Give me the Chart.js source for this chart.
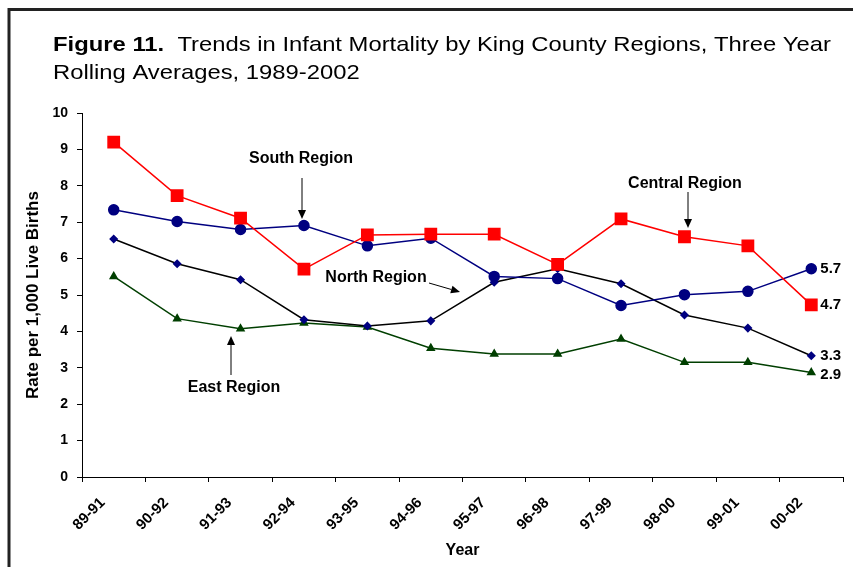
<!DOCTYPE html>
<html>
<head>
<meta charset="utf-8">
<script src="https://cdn.jsdelivr.net/npm/chart.js@4/dist/chart.umd.min.js"></script>
<style>
  html, body { margin: 0; padding: 0; background: #fff; }
  #wrap { width: 853px; height: 567px; position: relative; }
</style>
</head>
<body>
<div id="wrap"><canvas id="chart" width="853" height="567"></canvas></div>
<script>
const years = ['89-91', '90-92', '91-93', '92-94', '93-95', '94-96', '95-97', '96-98', '97-99', '98-00', '99-01', '00-02'];
const central = [9.2, 7.73, 7.11, 5.71, 6.65, 6.67, 6.67, 5.84, 7.09, 6.6, 6.35, 4.73];
const south = [7.34, 7.02, 6.8, 6.91, 6.35, 6.56, 5.51, 5.45, 4.71, 5.01, 5.1, 5.72];
const north = [6.54, 5.86, 5.42, 4.32, 4.15, 4.29, 5.35, 5.72, 5.31, 4.45, 4.09, 3.33];
const east = [5.51, 4.35, 4.07, 4.23, 4.12, 3.54, 3.38, 3.38, 3.79, 3.15, 3.15, 2.87];

const FONT = 'Arial, "Liberation Sans", sans-serif';
Chart.defaults.color = '#000';
Chart.defaults.font.family = FONT;

// frame + title
const framePlugin = {
  id: 'frame',
  beforeDraw(chart) {
    const c = chart.ctx;
    c.save();
    c.fillStyle = '#fff';
    c.fillRect(0, 0, chart.width, chart.height);
    c.strokeStyle = '#222';
    c.lineWidth = 3;
    c.beginPath();
    c.moveTo(9, 567);
    c.lineTo(9, 9.5);
    c.lineTo(853, 9.5);
    c.stroke();

    // title text is a bit wider than Arial, stretch it
    c.fillStyle = '#000';
    c.textBaseline = 'alphabetic';
    c.textAlign = 'left';
    c.translate(53, 0);
    c.scale(1.134, 1);
    c.font = 'bold 21px ' + FONT;
    const head = 'Figure 11.';
    c.fillText(head, 0, 51);
    const w = c.measureText(head).width;
    c.font = '21px ' + FONT;
    c.fillText('  Trends in Infant Mortality by King County Regions, Three Year', w, 51);
    c.fillText('Rolling Averages, 1989-2002', 0, 79);
    c.restore();
  }
};

function arrow(c, x1, y1, x2, y2) {
  const a = Math.atan2(y2 - y1, x2 - x1);
  const L = 9, W = 4;
  c.beginPath();
  c.moveTo(x1, y1);
  c.lineTo(x2 - Math.cos(a) * L, y2 - Math.sin(a) * L);
  c.stroke();
  c.beginPath();
  c.moveTo(x2, y2);
  c.lineTo(x2 - Math.cos(a) * L - Math.sin(a) * W, y2 - Math.sin(a) * L + Math.cos(a) * W);
  c.lineTo(x2 - Math.cos(a) * L + Math.sin(a) * W, y2 - Math.sin(a) * L - Math.cos(a) * W);
  c.closePath();
  c.fill();
}

const notesPlugin = {
  id: 'notes',
  afterDatasetsDraw(chart) {
    const c = chart.ctx;
    c.save();
    c.fillStyle = '#000';
    c.strokeStyle = '#000';
    c.lineWidth = 1;
    c.font = 'bold 16px ' + FONT;
    c.textAlign = 'center';
    c.textBaseline = 'alphabetic';
    c.fillText('South Region', 301, 163);
    c.fillText('Central Region', 685, 188);
    c.fillText('North Region', 376, 282);
    c.fillText('East Region', 234, 392);
    arrow(c, 302, 178, 302, 219);
    arrow(c, 688, 192, 688, 228);
    arrow(c, 429, 283, 460, 292);
    arrow(c, 231, 375, 231, 336);

    // end values
    c.font = 'bold 15px ' + FONT;
    c.textAlign = 'left';
    c.textBaseline = 'middle';
    chart.data.datasets.forEach((ds, i) => {
      const meta = chart.getDatasetMeta(i);
      const last = meta.data[meta.data.length - 1];
      const v = ds.data[ds.data.length - 1];
      const dy = ds.label === 'East' ? 2 : 0;
      c.fillText(v.toFixed(1), last.x + 9, last.y + dy);
    });
    c.restore();
  }
};

new Chart(document.getElementById('chart'), {
  type: 'line',
  data: {
    labels: years,
    datasets: [
      { label: 'Central', data: central, borderColor: '#ff0000', backgroundColor: '#ff0000',
        pointStyle: 'rect', pointRadius: 8, borderWidth: 1.5 },
      { label: 'South', data: south, borderColor: '#000080', backgroundColor: '#000080',
        pointStyle: 'circle', pointRadius: 5, borderWidth: 1.5 },
      { label: 'North', data: north, borderColor: '#000000', backgroundColor: '#000080',
        pointBorderColor: '#000080', pointStyle: 'rectRot', pointRadius: 3.5, borderWidth: 1.5 },
      { label: 'East', data: east, borderColor: '#003f00', backgroundColor: '#003f00',
        pointStyle: 'triangle', pointRadius: 4, borderWidth: 1.5 }
    ]
  },
  options: {
    responsive: false,
    animation: false,
    layout: { padding: { top: 113, right: 10, left: 0, bottom: 0 } },
    plugins: { legend: { display: false }, tooltip: { enabled: false } },
    elements: { line: { tension: 0 }, point: { borderWidth: 1 } },
    scales: {
      x: {
        offset: true,
        grid: { offset: true, drawOnChartArea: false, drawTicks: true, tickLength: 5, color: '#000' },
        border: { color: '#000', width: 1 },
        ticks: { minRotation: 45, maxRotation: 45, font: { size: 15, weight: 'bold' }, padding: 12, labelOffset: -11 },
        title: { display: true, text: 'Year', font: { size: 16, weight: 'bold' }, padding: { bottom: 7 } },
        afterFit(s) { s.height = 90; }
      },
      y: {
        min: 0, max: 10,
        grid: { drawOnChartArea: false, drawTicks: true, tickLength: 5, color: '#000' },
        border: { color: '#000', width: 1 },
        ticks: { stepSize: 1, font: { size: 14, weight: 'bold' }, padding: 9 },
        title: { display: true, text: 'Rate per 1,000 Live Births', font: { size: 17, weight: 'bold' }, padding: { top: 23 } },
        afterFit(s) { s.width = 82; }
      }
    }
  },
  plugins: [framePlugin, notesPlugin]
});
</script>
</body>
</html>
